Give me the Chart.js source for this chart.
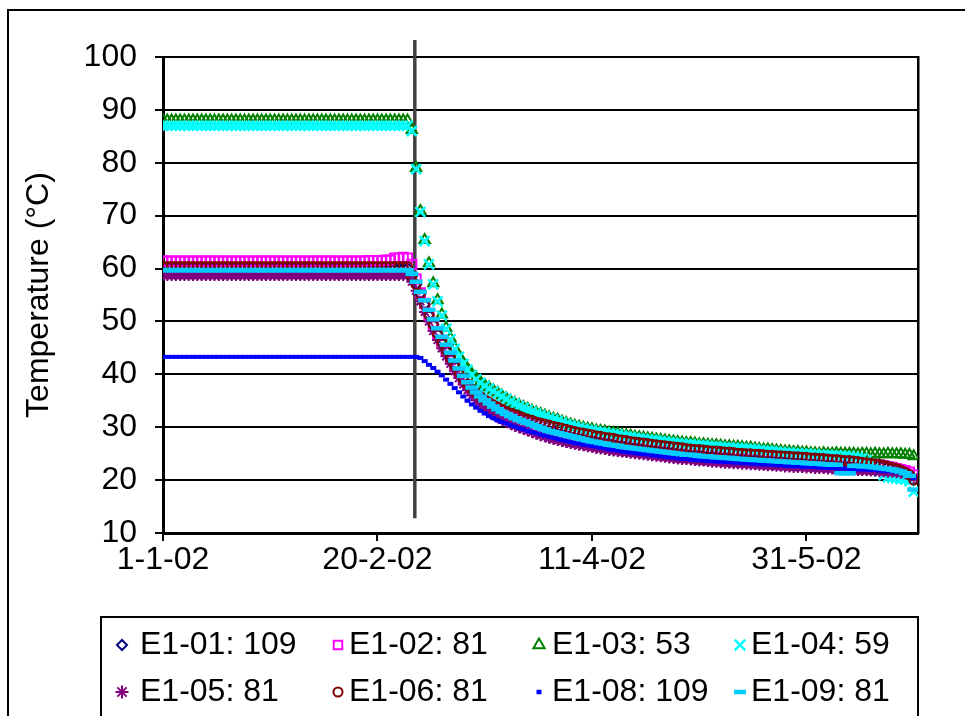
<!DOCTYPE html>
<html>
<head>
<meta charset="utf-8">
<script src="https://cdn.jsdelivr.net/npm/chart.js@4"></script>
<style>
  html, body { margin: 0; padding: 0; background: #fff; }
</style>
</head>
<body>
<canvas id="temp" width="965" height="716"></canvas>
<script>
// day number counted from 1-1-02
var days = [
  0,1,2,3,4,5,6,7,8,9, 10,11,12,13,14,15,16,17,18,19,
  20,21,22,23,24,25,26,27,28,29, 30,31,32,33,34,35,36,37,38,39,
  40,41,42,43,44,45,46,47,48,49, 50,51,52,53,54,55,56,57,58,59,
  60,61,62,63,64,65,66,67,68,69, 70,71,72,73,74,75,76,77,78,79,
  80,81,82,83,84,85,86,87,88,89, 90,91,92,93,94,95,96,97,98,99,
  100,101,102,103,104,105,106,107,108,109, 110,111,112,113,114,115,116,117,118,119,
  120,121,122,123,124,125,126,127,128,129, 130,131,132,133,134,135,136,137,138,139,
  140,141,142,143,144,145,146,147,148,149, 150,151,152,153,154,155,156,157,158,159,
  160,161,162,163,164,165,166,167,168,169, 170,171,172,173,174,175
];

var e101 = [
  60.1,60.1,60.1,60.1,60.1,60.1,60.1,60.1,60.1,60.1,
  60.1,60.1,60.1,60.1,60.1,60.1,60.1,60.1,60.1,60.1,
  60.1,60.1,60.1,60.1,60.1,60.1,60.1,60.1,60.1,60.1,
  60.1,60.1,60.1,60.1,60.1,60.1,60.1,60.1,60.1,60.1,
  60.1,60.1,60.1,60.1,60.1,60.1,60.1,60.1,60.1,60.1,
  60.1,60.1,60.1,60.1,60.1,60.1,60.1,60.1,58.5,57.0,
  55.2,53.2,51.2,49.4,47.6,46.0,44.5,43.0,41.6,40.3,
  39.1,38.1,37.2,36.4,35.8,35.2,34.7,34.2,33.8,33.4,
  33.0,32.7,32.4,32.1,31.8,31.5,31.3,31.0,30.8,30.6,
  30.4,30.2,30.0,29.8,29.6,29.4,29.2,29.0,28.9,28.7,
  28.6,28.4,28.3,28.1,28.0,27.9,27.7,27.6,27.5,27.3,
  27.2,27.1,27.0,26.9,26.8,26.7,26.6,26.5,26.4,26.3,
  26.2,26.1,26.0,25.9,25.8,25.8,25.7,25.6,25.5,25.5,
  25.4,25.3,25.3,25.2,25.1,25.1,25.0,25.0,24.9,24.9,
  24.8,24.7,24.7,24.6,24.6,24.5,24.5,24.4,24.4,24.3,
  24.3,24.2,24.2,24.1,24.1,24.0,23.9,23.9,23.8,23.7,
  23.7,23.6,23.5,23.4,23.3,23.2,23.1,23.0,22.8,22.6,
  22.4,22.2,21.9,21.5,21.0,20.0
];
var e102 = [
  61.4,61.4,61.4,61.4,61.4,61.4,61.4,61.4,61.4,61.4,
  61.4,61.4,61.4,61.4,61.4,61.4,61.4,61.4,61.4,61.4,
  61.4,61.4,61.4,61.4,61.4,61.4,61.4,61.4,61.4,61.4,
  61.4,61.4,61.4,61.4,61.4,61.4,61.4,61.4,61.4,61.4,
  61.4,61.4,61.4,61.4,61.4,61.4,61.4,61.4,61.5,61.5,
  61.5,61.5,61.6,61.6,62.0,62.0,62.1,62.0,60.8,58.0,
  55.4,53.4,51.2,49.3,47.6,46.0,44.4,42.9,41.5,40.2,
  39.0,38.0,37.1,36.3,35.6,35.0,34.5,34.0,33.6,33.2,
  32.8,32.5,32.2,31.9,31.6,31.3,31.0,30.8,30.5,30.3,
  30.1,29.9,29.7,29.5,29.3,29.1,28.9,28.8,28.6,28.4,
  28.3,28.1,28.0,27.8,27.7,27.6,27.4,27.3,27.2,27.1,
  26.9,26.8,26.7,26.6,26.5,26.4,26.3,26.2,26.1,26.0,
  25.9,25.8,25.7,25.7,25.6,25.5,25.4,25.4,25.3,25.2,
  25.1,25.1,25.0,24.9,24.9,24.8,24.8,24.7,24.6,24.6,
  24.5,24.5,24.4,24.4,24.3,24.3,24.2,24.2,24.1,24.1,
  24.0,24.0,23.9,23.9,23.8,23.8,23.7,23.7,23.6,23.5,
  23.5,23.4,23.3,23.2,23.1,23.0,22.9,22.8,22.7,22.5,
  22.4,22.2,22.0,21.8,21.5,21.0
];
var e103 = [
  88,88,88,88,88,88,88,88,88,88,
  88,88,88,88,88,88,88,88,88,88,
  88,88,88,88,88,88,88,88,88,88,
  88,88,88,88,88,88,88,88,88,88,
  88,88,88,88,88,88,88,88,88,88,
  88,88,88,88,88,88,88,88,86.2,79.0,
  70.9,65.4,61.0,57.2,54.0,51.3,48.8,46.8,45.0,43.5,
  42.2,41.1,40.1,39.3,38.6,38.0,37.5,37.0,36.5,36.0,
  35.5,35.0,34.6,34.2,33.8,33.5,33.1,32.8,32.5,32.2,
  31.9,31.6,31.4,31.1,30.8,30.5,30.3,30.1,29.9,29.7,
  29.6,29.4,29.3,29.2,29.0,28.9,28.8,28.6,28.5,28.4,
  28.2,28.1,28.0,27.9,27.8,27.7,27.6,27.5,27.4,27.3,
  27.2,27.1,27.0,27.0,26.9,26.8,26.8,26.7,26.6,26.6,
  26.5,26.4,26.4,26.3,26.3,26.2,26.1,26.1,26.0,25.9,
  25.8,25.8,25.7,25.6,25.5,25.4,25.4,25.3,25.3,25.2,
  25.2,25.1,25.1,25.0,25.1,25.0,25.0,25.1,25.0,25.0,
  25.0,25.0,24.9,25.0,25.0,24.9,25.0,24.9,24.9,25.0,
  24.9,24.9,24.9,24.8,24.8,24.5
];
var e104 = [
  87,87,87,87,87,87,87,87,87,87,
  87,87,87,87,87,87,87,87,87,87,
  87,87,87,87,87,87,87,87,87,87,
  87,87,87,87,87,87,87,87,87,87,
  87,87,87,87,87,87,87,87,87,87,
  87,87,87,87,87,87,87,87,86.0,78.8,
  70.7,65.2,60.8,57.0,53.8,51.1,48.6,46.6,44.8,43.3,
  42.0,40.9,39.9,39.1,38.4,37.8,37.3,36.8,36.3,35.8,
  35.3,34.8,34.4,34.0,33.6,33.3,32.9,32.6,32.3,32.0,
  31.7,31.4,31.2,30.9,30.6,30.3,30.1,29.9,29.7,29.5,
  29.4,29.2,29.1,29.0,28.8,28.7,28.6,28.4,28.3,28.2,
  28.0,27.9,27.8,27.7,27.6,27.5,27.4,27.3,27.2,27.1,
  27.0,26.9,26.8,26.8,26.7,26.6,26.6,26.5,26.4,26.4,
  26.3,26.2,26.2,26.1,26.1,26.0,25.9,25.9,25.8,25.7,
  25.6,25.6,25.5,25.4,25.3,25.2,25.2,25.1,25.1,25.0,
  25.0,24.9,24.9,24.8,24.8,24.8,24.7,24.7,24.6,24.6,
  24.5,24.4,24.3,24.1,23.8,23.2,22.4,21.6,20.9,20.5,
  20.4,20.3,20.2,20.1,19.8,17.8
];
var e105 = [
  58.7,58.7,58.7,58.7,58.7,58.7,58.7,58.7,58.7,58.7,
  58.7,58.7,58.7,58.7,58.7,58.7,58.7,58.7,58.7,58.7,
  58.7,58.7,58.7,58.7,58.7,58.7,58.7,58.7,58.7,58.7,
  58.7,58.7,58.7,58.7,58.7,58.7,58.7,58.7,58.7,58.7,
  58.7,58.7,58.7,58.7,58.7,58.7,58.7,58.7,58.7,58.7,
  58.7,58.7,58.7,58.7,58.7,58.7,58.7,58.7,57.5,55.8,
  53.8,51.8,50.0,48.2,46.5,44.9,43.4,42.0,40.6,39.3,
  38.1,37.0,36.0,35.1,34.3,33.6,33.0,32.4,31.9,31.4,
  31.0,30.6,30.2,29.9,29.6,29.3,29.0,28.7,28.4,28.2,
  27.9,27.7,27.5,27.3,27.1,26.9,26.8,26.6,26.5,26.3,
  26.2,26.0,25.9,25.8,25.6,25.5,25.4,25.3,25.2,25.1,
  25.0,24.9,24.8,24.7,24.6,24.5,24.4,24.3,24.2,24.1,
  24.0,23.9,23.9,23.8,23.7,23.6,23.6,23.5,23.4,23.4,
  23.3,23.2,23.2,23.1,23.1,23.0,23.0,22.9,22.9,22.8,
  22.8,22.7,22.7,22.6,22.6,22.5,22.5,22.4,22.4,22.4,
  22.3,22.3,22.2,22.2,22.2,22.1,22.1,22.0,22.0,22.0,
  21.9,21.9,21.8,21.8,21.8,21.7,21.7,21.6,21.6,21.5,
  21.5,21.4,21.3,21.2,21.0,20.5
];
var e106 = [
  60.4,60.4,60.4,60.4,60.4,60.4,60.4,60.4,60.4,60.4,
  60.4,60.4,60.4,60.4,60.4,60.4,60.4,60.4,60.4,60.4,
  60.4,60.4,60.4,60.4,60.4,60.4,60.4,60.4,60.4,60.4,
  60.4,60.4,60.4,60.4,60.4,60.4,60.4,60.4,60.4,60.4,
  60.4,60.4,60.4,60.4,60.4,60.4,60.4,60.4,60.4,60.4,
  60.4,60.4,60.4,60.4,60.4,60.4,60.4,60.4,58.5,57.0,
  55.2,53.2,51.2,49.4,47.6,46.0,44.5,43.0,41.6,40.3,
  39.1,38.1,37.2,36.4,35.8,35.2,34.7,34.2,33.8,33.4,
  33.0,32.7,32.4,32.1,31.8,31.5,31.3,31.0,30.8,30.6,
  30.4,30.2,30.0,29.8,29.6,29.4,29.2,29.0,28.9,28.7,
  28.6,28.4,28.3,28.1,28.0,27.9,27.7,27.6,27.5,27.3,
  27.2,27.1,27.0,26.9,26.8,26.7,26.6,26.5,26.4,26.3,
  26.2,26.1,26.0,25.9,25.8,25.8,25.7,25.6,25.5,25.5,
  25.4,25.3,25.3,25.2,25.1,25.1,25.0,25.0,24.9,24.9,
  24.8,24.7,24.7,24.6,24.6,24.5,24.5,24.4,24.4,24.3,
  24.3,24.2,24.2,24.1,24.1,24.0,23.9,23.9,23.8,23.7,
  23.7,23.6,23.5,23.4,23.3,23.2,23.1,23.0,22.8,22.6,
  22.4,22.2,21.9,21.5,21.0,20.0
];
var e108 = [
  43.3,43.3,43.3,43.3,43.3,43.3,43.3,43.3,43.3,43.3,
  43.3,43.3,43.3,43.3,43.3,43.3,43.3,43.3,43.3,43.3,
  43.3,43.3,43.3,43.3,43.3,43.3,43.3,43.3,43.3,43.3,
  43.3,43.3,43.3,43.3,43.3,43.3,43.3,43.3,43.3,43.3,
  43.3,43.3,43.3,43.3,43.3,43.3,43.3,43.3,43.3,43.3,
  43.3,43.3,43.3,43.3,43.3,43.3,43.3,43.3,43.3,43.3,
  43.1,42.5,41.8,41.2,40.5,39.8,39.0,38.2,37.4,36.6,
  35.8,35.0,34.3,33.7,33.1,32.6,32.1,31.7,31.3,31.0,
  30.7,30.4,30.1,29.8,29.6,29.3,29.1,28.9,28.6,28.4,
  28.2,28.0,27.8,27.6,27.4,27.2,27.0,26.9,26.7,26.6,
  26.4,26.3,26.1,26.0,25.8,25.7,25.6,25.4,25.3,25.2,
  25.1,25.0,24.9,24.8,24.7,24.6,24.5,24.4,24.3,24.2,
  24.1,24.0,24.0,23.9,23.8,23.8,23.7,23.6,23.6,23.5,
  23.5,23.4,23.4,23.3,23.3,23.2,23.2,23.1,23.1,23.0,
  23.0,22.9,22.9,22.8,22.8,22.7,22.7,22.6,22.6,22.5,
  22.5,22.5,22.4,22.4,22.3,22.3,22.3,22.2,22.2,22.2,
  22.1,22.1,22.0,22.0,22.0,21.9,21.9,21.8,21.7,21.7,
  21.6,21.5,21.4,21.2,20.9,20.4
];
var e109 = [
  59.7,59.7,59.7,59.7,59.7,59.7,59.7,59.7,59.7,59.7,
  59.7,59.7,59.7,59.7,59.7,59.7,59.7,59.7,59.7,59.7,
  59.7,59.7,59.7,59.7,59.7,59.7,59.7,59.7,59.7,59.7,
  59.7,59.7,59.7,59.7,59.7,59.7,59.7,59.7,59.7,59.7,
  59.7,59.7,59.7,59.7,59.7,59.7,59.7,59.7,59.7,59.7,
  59.7,59.7,59.7,59.7,59.7,59.7,59.7,59.7,59.0,57.5,
  55.6,54.0,52.2,50.4,48.7,47.1,45.6,44.1,42.6,41.1,
  39.7,38.5,37.5,36.6,35.8,35.1,34.5,33.9,33.4,32.9,
  32.5,32.1,31.7,31.4,31.1,30.8,30.5,30.2,29.9,29.6,
  29.3,29.1,28.9,28.7,28.5,28.3,28.1,27.9,27.7,27.5,
  27.3,27.2,27.0,26.9,26.7,26.6,26.5,26.3,26.2,26.1,
  26.0,25.9,25.8,25.7,25.6,25.5,25.4,25.3,25.2,25.1,
  25.0,24.9,24.8,24.8,24.7,24.6,24.5,24.5,24.4,24.3,
  24.3,24.2,24.2,24.1,24.0,24.0,23.9,23.9,23.8,23.8,
  23.7,23.7,23.6,23.6,23.5,23.5,23.4,23.4,23.3,23.3,
  23.2,23.2,23.1,23.1,23.0,23.0,22.9,22.9,21.3,21.3,
  21.3,22.7,22.7,22.6,22.6,22.5,22.4,22.3,22.2,22.1,
  22.0,21.8,21.6,21.3,20.8,18.2
];

var seriesLabels = ['E1-01: 109', 'E1-02: 81', 'E1-03: 53', 'E1-04: 59',
                    'E1-05: 81', 'E1-06: 81', 'E1-08: 109', 'E1-09: 81'];
var seriesValues = [e101, e102, e103, e104, e105, e106, e108, e109];

var xTickDays = [0, 50, 100, 150];
var xTickLabels = ['1-1-02', '20-2-02', '11-4-02', '31-5-02'];

// day of the vertical marker line and its extent in degrees
var markerDay = 58.7;
var markerSpan = [12.8, 103.2];

// look of each series
var colors = ['#000080', '#ff00ff', '#008000', '#00ffff', '#800080', '#800000', '#0000ff', '#00ccff'];
var markers = ['rectRot', 'rect', 'triangle', 'crossRot', 'star', 'circle', 'line', 'line'];
var radii = [5, 6.5, 6, 7, 5.5, 4.5, 3, 6.5];
var borders = [2, 2, 2, 2.5, 2, 2, 4, 4.5];
var legendRadii = [5, 6, 6.5, 7.5, 6.5, 4.5, 2.5, 6];

var FONT = '"Liberation Sans", Arial, sans-serif';

var datasets = seriesValues.map(function (vals, i) {
  return {
    label: seriesLabels[i],
    data: days.map(function (d, k) { return { x: d, y: vals[k] }; }),
    showLine: false,
    pointStyle: markers[i],
    pointRadius: radii[i],
    pointHoverRadius: radii[i],
    pointBorderWidth: borders[i],
    pointBorderColor: colors[i],
    pointBackgroundColor: 'rgba(0,0,0,0)',
    order: 10 - i
  };
});

datasets.push({
  label: 'marker',
  data: [{ x: markerDay, y: markerSpan[0] }, { x: markerDay, y: markerSpan[1] }],
  showLine: true,
  borderColor: '#404040',
  borderWidth: 3.5,
  pointRadius: 0,
  clip: false,
  order: 100
});

var frameAndLegend = {
  id: 'frameAndLegend',
  beforeDraw: function (chart) {
    var c = chart.ctx;
    c.save();
    c.strokeStyle = '#000';
    c.lineWidth = 2;
    c.strokeRect(8, 10, 1000, 800);
    c.restore();
  },
  afterDraw: function (chart) {
    var c = chart.ctx;
    var markX = [122, 338, 539, 740];
    var textX = [140, 349, 552, 751];
    var rowY = [645, 692];
    c.save();
    c.strokeStyle = '#000';
    c.lineWidth = 2;
    c.strokeRect(101, 617, 817, 200);
    seriesLabels.forEach(function (lab, i) {
      var col = i % 4, row = Math.floor(i / 4);
      c.strokeStyle = colors[i];
      c.fillStyle = 'rgba(0,0,0,0)';
      c.lineWidth = borders[i] > 3 ? 4.5 : borders[i];
      Chart.helpers.drawPoint(c, {
        pointStyle: markers[i], radius: legendRadii[i], rotation: 0,
        borderWidth: c.lineWidth
      }, markX[col], rowY[row]);
      c.fillStyle = '#000';
      c.font = '32px ' + FONT;
      c.textAlign = 'left';
      c.textBaseline = 'middle';
      c.fillText(lab, textX[col], rowY[row]);
    });
    c.restore();
  }
};

new Chart(document.getElementById('temp').getContext('2d'), {
  type: 'scatter',
  data: { datasets: datasets },
  options: {
    responsive: false,
    animation: false,
    devicePixelRatio: 1,
    layout: { padding: { left: 20, top: 57, right: 47, bottom: 0 } },
    plugins: { legend: { display: false }, tooltip: { enabled: false } },
    scales: {
      x: {
        type: 'linear', position: 'bottom', min: 0, max: 176,
        afterFit: function (s) { s.height = 183; },
        ticks: {
          stepSize: 50, includeBounds: false, maxRotation: 0, autoSkip: false,
          padding: 0, color: '#000', font: { family: FONT, size: 32 },
          callback: function (v) {
            var i = xTickDays.indexOf(v);
            return i >= 0 ? xTickLabels[i] : '';
          }
        },
        grid: { drawOnChartArea: false, tickLength: 8, color: '#000', lineWidth: 2 },
        border: { color: '#000', width: 3 }
      },
      y: {
        min: 10, max: 100,
        afterFit: function (s) { s.width = 143; },
        ticks: { stepSize: 10, padding: 18, color: '#000', font: { family: FONT, size: 32 } },
        grid: { color: '#000', lineWidth: 2, tickLength: 8 },
        border: { color: '#000', width: 3 },
        title: {
          display: true, text: 'Temperature (°C)', color: '#000',
          padding: 0, font: { family: FONT, size: 32 }
        }
      },
      y2: {
        position: 'right', min: 10, max: 100,
        afterFit: function (s) { s.width = 0; },
        ticks: { display: false },
        grid: { drawOnChartArea: false, drawTicks: false },
        border: { color: '#000', width: 2.5 }
      }
    }
  },
  plugins: [frameAndLegend]
});
</script>
</body>
</html>
